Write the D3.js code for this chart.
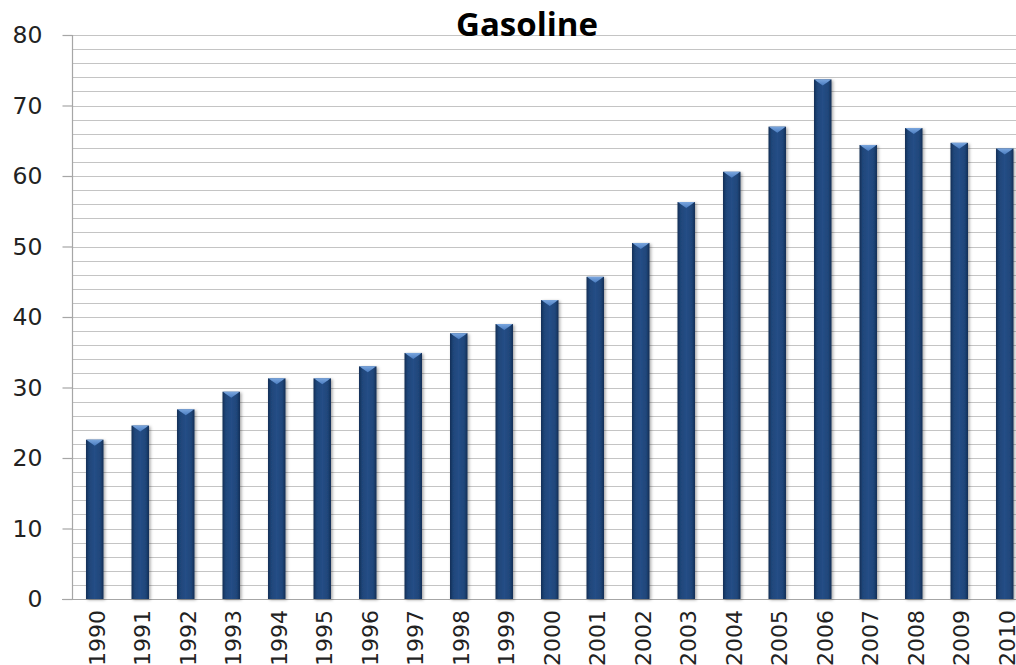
<!DOCTYPE html>
<html>
<head>
<meta charset="utf-8">
<script src="https://cdn.jsdelivr.net/npm/d3@7"></script>
<style>
  html, body { margin: 0; padding: 0; background: #fff; overflow: hidden; }
  svg { display: block; }
</style>
</head>
<body>
<svg id="chart" width="1016" height="665"></svg>
<script>
const years = ["1990","1991","1992","1993","1994","1995","1996","1997","1998","1999","2000",
               "2001","2002","2003","2004","2005","2006","2007","2008","2009","2010"];
const values = [22.6, 24.6, 26.9, 29.4, 31.3, 31.3, 33.0, 34.9, 37.7, 39.0, 42.4,
                45.7, 50.5, 56.3, 60.6, 67.0, 73.7, 64.4, 66.8, 64.7, 63.9];
const yTicks = [0, 10, 20, 30, 40, 50, 60, 70, 80];
const title = "Gasoline";

(function () {
const svg = d3.select("#chart");
const mLeft = 72, mTop = 35, mBottom = 599, step = 45.5;
const x = d3.scaleBand().domain(years)
  .range([mLeft, mLeft + years.length * step])
  .paddingInner(0.615).paddingOuter(0.3075);
const y = d3.scaleLinear().domain([0, 80]).range([mBottom, mTop]);

const defs = svg.append("defs");
const g1 = defs.append("linearGradient").attr("id", "barGrad").attr("x1", "0").attr("x2", "1").attr("y1", "0").attr("y2", "0");
g1.append("stop").attr("offset", "0").attr("stop-color", "#132f55");
g1.append("stop").attr("offset", "0.18").attr("stop-color", "#1f4579");
g1.append("stop").attr("offset", "0.5").attr("stop-color", "#254e86");
g1.append("stop").attr("offset", "0.82").attr("stop-color", "#1f4579");
g1.append("stop").attr("offset", "1").attr("stop-color", "#132f55");
const g2 = defs.append("linearGradient").attr("id", "capGrad").attr("x1", "0").attr("x2", "0").attr("y1", "0").attr("y2", "1");
g2.append("stop").attr("offset", "0").attr("stop-color", "#7aa6de");
g2.append("stop").attr("offset", "1").attr("stop-color", "#4a7cc0");
const f = defs.append("filter").attr("id", "shadow").attr("x", "-30%").attr("y", "-5%").attr("width", "170%").attr("height", "115%");
f.append("feDropShadow").attr("dx", 1.5).attr("dy", 1).attr("stdDeviation", 1.5).attr("flood-color", "#000").attr("flood-opacity", 0.35);

// gridlines every 2 units
const gridVals = d3.range(0, 81, 2);
svg.append("g").selectAll("line").data(gridVals).join("line")
  .attr("x1", mLeft).attr("x2", 1016)
  .attr("y1", d => Math.round(y(d)) + 0.5).attr("y2", d => Math.round(y(d)) + 0.5)
  .attr("stroke", "#c4c4c4").attr("stroke-width", 1.2);

// y axis
const yAxis = d3.axisLeft(y).tickValues(yTicks).tickSize(10).tickPadding(20);
const ya = svg.append("g").attr("transform", `translate(${mLeft + 0.5},0)`).call(yAxis);
ya.select(".domain").attr("stroke", "#a6a6a6").attr("stroke-width", 1.2).attr("d", `M0,${mTop}V${mBottom}`);
ya.selectAll(".tick line").attr("stroke", "#a6a6a6").attr("stroke-width", 1.2);
ya.selectAll(".tick text").attr("font-family", "DejaVu Sans, Verdana, sans-serif")
  .attr("font-size", 23.5).attr("fill", "#222");

// x axis line
svg.append("line").attr("x1", mLeft - 10).attr("x2", 1016)
  .attr("y1", Math.round(y(0)) + 0.5).attr("y2", Math.round(y(0)) + 0.5)
  .attr("stroke", "#a6a6a6").attr("stroke-width", 1.2);

// bars
const bars = svg.append("g");
bars.selectAll("rect").data(values).join("rect")
  .attr("x", (d, i) => x(years[i]))
  .attr("width", x.bandwidth())
  .attr("y", d => y(d))
  .attr("height", d => y(0) - y(d))
  .attr("fill", "url(#barGrad)")
  .attr("filter", "url(#shadow)");
// top bevel cap
bars.selectAll("path").data(values).join("path")
  .attr("d", (d, i) => {
    const x0 = x(years[i]), w = x.bandwidth(), t = y(d);
    return `M${x0 + 0.5},${t}L${x0 + w - 0.5},${t}L${x0 + w - 3},${t + 2}L${x0 + w / 2},${t + 6}L${x0 + 3},${t + 2}Z`;
  })
  .attr("fill", "url(#capGrad)");

// x labels
svg.append("g").selectAll("text").data(years).join("text")
  .attr("transform", d => `translate(${x(d) + x.bandwidth() / 2 + 2},610) rotate(-90)`)
  .attr("text-anchor", "end").attr("dy", "0.36em")
  .attr("font-family", "DejaVu Sans, Verdana, sans-serif")
  .attr("font-size", 22).attr("fill", "#222")
  .text(d => d);

// title
svg.append("text").attr("x", 527).attr("y", 36).attr("text-anchor", "middle")
  .attr("font-family", "Open Sans, sans-serif").attr("font-weight", "bold")
  .attr("font-size", 33).attr("fill", "#000").text(title);
})();
</script>
</body>
</html>
